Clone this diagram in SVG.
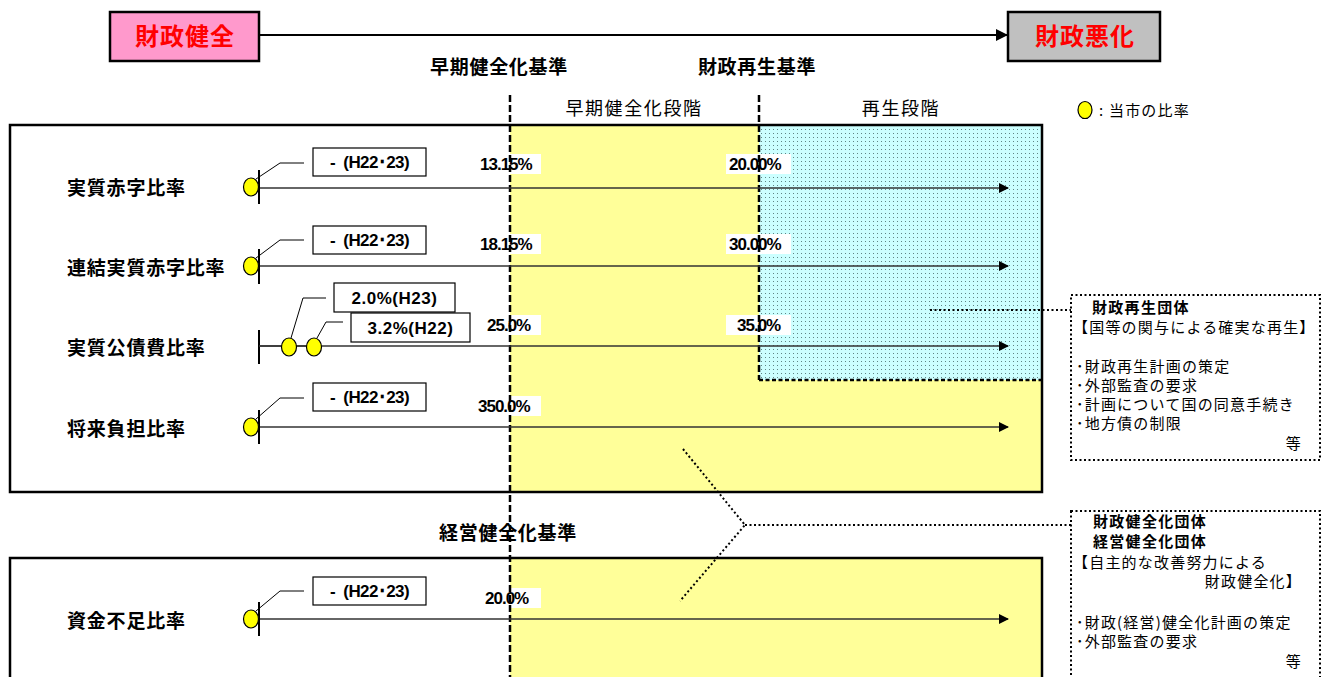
<svg xmlns="http://www.w3.org/2000/svg" width="1327" height="677" viewBox="0 0 1327 677">
<style>
.lbl{font-family:"Noto Sans CJK JP",sans-serif;font-weight:bold;font-size:19px;letter-spacing:0.8px;fill:#000}
.hd{font-family:"Noto Sans CJK JP",sans-serif;font-weight:bold;font-size:19px;letter-spacing:0.7px;fill:#000}
.stage{font-family:"Noto Sans CJK JP",sans-serif;font-size:18px;letter-spacing:1.6px;fill:#000}
.body{font-family:"Noto Sans CJK JP",sans-serif;font-size:15px;letter-spacing:1.2px;fill:#000}
.bodyb{font-family:"Noto Sans CJK JP",sans-serif;font-weight:bold;font-size:15px;letter-spacing:1.3px;fill:#000}
.pct{font-family:"Liberation Sans",Arial,sans-serif;font-weight:bold;font-size:17px;letter-spacing:-1px;fill:#000}
.cb{fill:#fff;stroke:#000;stroke-width:1.2}
.ct{font-family:"Liberation Sans",Arial,sans-serif;font-weight:bold;font-size:17px;letter-spacing:-0.6px;fill:#000}
.ct2{font-family:"Liberation Sans",Arial,sans-serif;font-weight:bold;font-size:17px;letter-spacing:0.5px;fill:#000}
.dot{fill:#FFFF00;stroke:#000;stroke-width:1.2}
.row{stroke:#333;stroke-width:1.6;fill:none;marker-end:url(#ah)}
.co{stroke:#000;stroke-width:1;fill:none}
.tick{stroke:#000;stroke-width:2}
.vd{stroke:#000;stroke-width:2.5;stroke-dasharray:7 3;fill:none}
.dotted{stroke:#000;stroke-width:2;stroke-dasharray:2 2.5;fill:none}
</style>
<defs>
<marker id="ah" markerWidth="10" markerHeight="10" refX="9" refY="5" orient="auto" markerUnits="userSpaceOnUse">
<path d="M0,0 L10,5 L0,10 z" fill="#000"/>
</marker>
<marker id="ah2" markerWidth="12" markerHeight="12" refX="11" refY="6" orient="auto" markerUnits="userSpaceOnUse">
<path d="M0,0 L12,6 L0,12 z" fill="#000"/>
</marker>
<pattern id="dots" width="4" height="4" patternUnits="userSpaceOnUse">
<rect width="4" height="4" fill="#CCFFFF"/>
<rect x="1" y="1" width="1" height="1" fill="#5f8585"/>
</pattern>
</defs>
<rect width="1327" height="677" fill="#fff"/>

<g id="header">
<line x1="259" y1="35" x2="1007" y2="35" stroke="#000" stroke-width="2" marker-end="url(#ah2)"/>
<g id="good">
<rect x="110" y="12" width="149" height="49" fill="#FF99CC" stroke="#000" stroke-width="2.5"/>
<text x="185" y="45" text-anchor="middle" font-family="Noto Sans CJK JP,sans-serif" font-weight="bold" font-size="24" letter-spacing="1" fill="#FF0000">財政健全</text>
</g>
<g id="bad">
<rect x="1008" y="12" width="152" height="49" fill="#C0C0C0" stroke="#000" stroke-width="2.5"/>
<text x="1085" y="45" text-anchor="middle" font-family="Noto Sans CJK JP,sans-serif" font-weight="bold" font-size="24" letter-spacing="1" fill="#FF0000">財政悪化</text>
</g>
<text class="hd" x="499" y="74" text-anchor="middle">早期健全化基準</text>
<text class="hd" x="757" y="74" text-anchor="middle">財政再生基準</text>
<text class="stage" x="634" y="115" text-anchor="middle">早期健全化段階</text>
<text class="stage" x="901" y="115" text-anchor="middle">再生段階</text>
<g id="legend">
<ellipse class="dot" cx="1085" cy="110" rx="7" ry="8.5"/>
<text class="body" x="1099" y="116" letter-spacing="2">: 当市の比率</text>
</g>
</g>

<g id="panel1">
<rect x="10" y="125" width="1032" height="367" fill="#fff" stroke="none"/>
<rect x="510" y="125" width="532" height="367" fill="#FFFF99"/>
<rect x="759" y="125" width="283" height="255" fill="url(#dots)"/>
<line x1="759" y1="380" x2="1042" y2="380" stroke="#000" stroke-width="2.5" stroke-dasharray="4 2.5"/>
<rect x="10" y="125" width="1032" height="367" fill="none" stroke="#000" stroke-width="2.5"/>
</g>

<g id="panel2">
<rect x="510" y="558" width="532" height="125" fill="#FFFF99"/>
<rect x="10" y="558" width="1032" height="125" fill="none" stroke="#000" stroke-width="2.5"/>
</g>

<g id="pct-labels">
<rect x="478" y="154" width="63" height="20" fill="#fff"/>
<text class="pct" x="480" y="170">13.15%</text>
<rect x="726" y="154" width="65" height="20" fill="#fff"/>
<text class="pct" x="729" y="170">20.00%</text>
<rect x="478" y="234" width="63" height="20" fill="#fff"/>
<text class="pct" x="480" y="250">18.15%</text>
<rect x="726" y="234" width="65" height="20" fill="#fff"/>
<text class="pct" x="729" y="250">30.00%</text>
<rect x="485" y="315" width="56" height="20" fill="#fff"/>
<text class="pct" x="487" y="331">25.0%</text>
<rect x="726" y="315" width="65" height="20" fill="#fff"/>
<text class="pct" x="737" y="331">35.0%</text>
<rect x="477" y="396" width="64" height="20" fill="#fff"/>
<text class="pct" x="478" y="412">350.0%</text>
<rect x="484" y="588" width="57" height="20" fill="#fff"/>
<text class="pct" x="485" y="604">20.0%</text>
</g>

<g id="criteria-lines">
<line class="vd" x1="510" y1="95" x2="510" y2="677"/>
<line class="vd" x1="759" y1="95" x2="759" y2="380"/>
</g>

<g id="panel2-title">
<text class="hd" x="508" y="540" text-anchor="middle">経営健全化基準</text>
</g>

<g id="connectors">
<line class="row" x1="259" y1="188" x2="1008" y2="188"/>
<line class="row" x1="259" y1="266" x2="1008" y2="266"/>
<line class="row" x1="259" y1="346" x2="1008" y2="346"/>
<line class="row" x1="259" y1="427" x2="1008" y2="427"/>
<line class="row" x1="259" y1="619" x2="1008" y2="619"/>
<polyline class="co" points="256,179 280,163 304,163"/>
<polyline class="co" points="256,258 280,240 304,240"/>
<polyline class="co" points="291,338 303,298 326,298"/>
<polyline class="co" points="317,338 326,322 343,322"/>
<polyline class="co" points="256,419 280,398 304,398"/>
<polyline class="co" points="256,611 280,591 304,591"/>
<line class="dotted" x1="930" y1="310" x2="1071" y2="310"/>
<polyline class="dotted" points="683,449 745,525 680,601"/>
<line class="dotted" x1="745" y1="525" x2="1071" y2="525"/>
</g>

<g id="row1">
<text class="lbl" x="67" y="195">実質赤字比率</text>
<line class="tick" x1="259" y1="170" x2="259" y2="204"/>
<ellipse class="dot" cx="251" cy="187" rx="7.5" ry="9"/>
<rect class="cb" x="313" y="148" width="113" height="28"/>
<text class="ct" x="369.5" y="168" text-anchor="middle" xml:space="preserve">-  (H22･23)</text>
</g>

<g id="row2">
<text class="lbl" x="67" y="275">連結実質赤字比率</text>
<line class="tick" x1="259" y1="249" x2="259" y2="284"/>
<ellipse class="dot" cx="251" cy="266" rx="7.5" ry="9"/>
<rect class="cb" x="313" y="226" width="113" height="28"/>
<text class="ct" x="369.5" y="246" text-anchor="middle" xml:space="preserve">-  (H22･23)</text>
</g>

<g id="row3">
<text class="lbl" x="67" y="355">実質公債費比率</text>
<line class="tick" x1="259" y1="330" x2="259" y2="364"/>
<line x1="259" y1="346" x2="320" y2="346" stroke="#333" stroke-width="1.6"/>
<ellipse class="dot" cx="289" cy="347" rx="7.5" ry="9"/>
<ellipse class="dot" cx="314" cy="347" rx="7.5" ry="9"/>
<rect class="cb" x="334" y="283" width="121" height="29"/>
<text class="ct2" x="394.5" y="304" text-anchor="middle">2.0%(H23)</text>
<rect class="cb" x="351" y="313" width="119" height="29"/>
<text class="ct2" x="410.5" y="334" text-anchor="middle">3.2%(H22)</text>
</g>

<g id="row4">
<text class="lbl" x="67" y="436">将来負担比率</text>
<line class="tick" x1="259" y1="410" x2="259" y2="444"/>
<ellipse class="dot" cx="251" cy="427" rx="7.5" ry="9"/>
<rect class="cb" x="313" y="383" width="113" height="28"/>
<text class="ct" x="369.5" y="403" text-anchor="middle" xml:space="preserve">-  (H22･23)</text>
</g>

<g id="row5">
<text class="lbl" x="67" y="628">資金不足比率</text>
<line class="tick" x1="259" y1="602" x2="259" y2="636"/>
<ellipse class="dot" cx="251" cy="619" rx="7.5" ry="9"/>
<rect class="cb" x="313" y="577" width="113" height="28"/>
<text class="ct" x="369.5" y="597" text-anchor="middle" xml:space="preserve">-  (H22･23)</text>
</g>

<g id="note-saisei">
<rect x="1071" y="295" width="249" height="165" fill="#fff" class="dotted"/>
<text class="bodyb" x="1092" y="313">財政再生団体</text>
<text class="body" x="1073" y="333" letter-spacing="0">【国等の関与による確実な再生】</text>
<text class="body" x="1076" y="372">･財政再生計画の策定</text>
<text class="body" x="1076" y="391">･外部監査の要求</text>
<text class="body" x="1076" y="410">･計画について国の同意手続き</text>
<text class="body" x="1076" y="429">･地方債の制限</text>
<text class="body" x="1302" y="449" text-anchor="end" letter-spacing="0">等</text>
</g>

<g id="note-kenzen">
<rect x="1071" y="511" width="249" height="175" fill="#fff" class="dotted"/>
<text class="bodyb" x="1093" y="527">財政健全化団体</text>
<text class="bodyb" x="1093" y="547">経営健全化団体</text>
<text class="body" x="1073" y="568" letter-spacing="0.3">【自主的な改善努力による</text>
<text class="body" x="1302" y="587" text-anchor="end" letter-spacing="1">財政健全化】</text>
<text class="body" x="1076" y="628">･財政(経営)健全化計画の策定</text>
<text class="body" x="1076" y="647">･外部監査の要求</text>
<text class="body" x="1302" y="667" text-anchor="end" letter-spacing="0">等</text>
</g>
</svg>
